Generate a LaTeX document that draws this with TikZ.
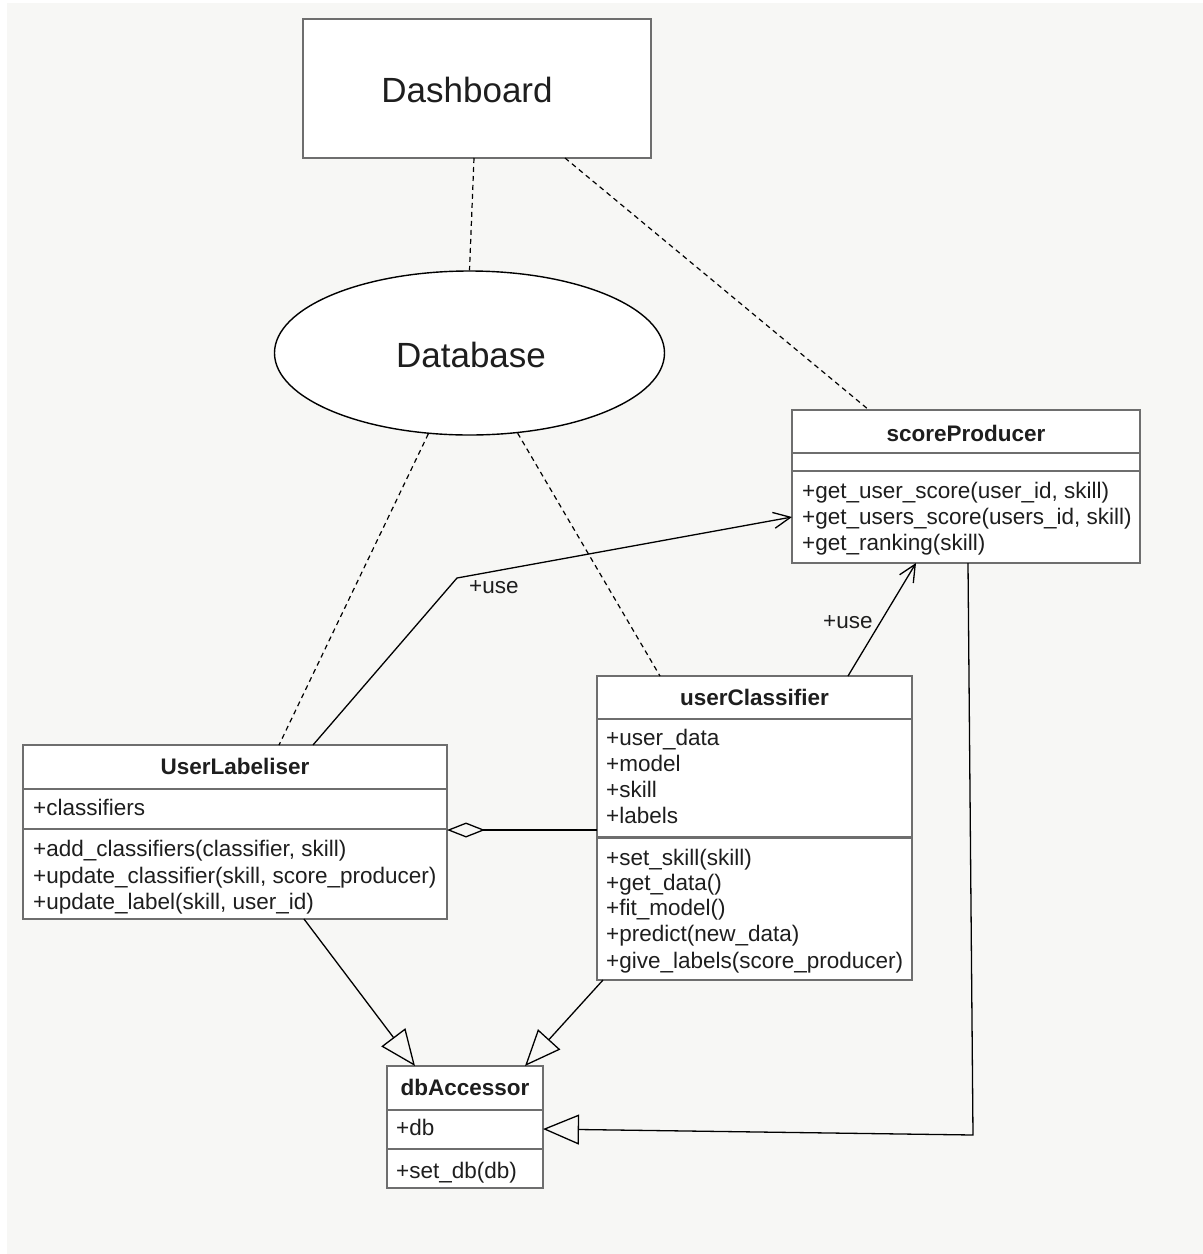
\documentclass[tikz,border=0pt]{standalone}
\usepackage{fontspec}
\setmainfont{Liberation Sans}
\usetikzlibrary{arrows.meta,shapes.geometric,calc}
\definecolor{bg}{HTML}{F7F7F5}
\definecolor{bord}{HTML}{6E6E6E}
\definecolor{txt}{HTML}{1E1E1E}
\begin{document}
\begin{tikzpicture}[x=1pt,y=-1pt,
  cls/.style={draw=bord, line width=2.4pt, fill=white, rectangle, inner sep=0pt, outer sep=0pt, anchor=north west},
  divl/.style={draw=bord, line width=2.2pt},
  ttl/.style={font=\fontsize{22.5}{27}\selectfont\bfseries, text=txt, inner sep=0pt, anchor=base},
  mem/.style={font=\fontsize{22.5}{27}\selectfont, text=txt, inner sep=0pt, anchor=base west},
  big/.style={font=\fontsize{35}{40}\selectfont, text=txt, inner sep=0pt, anchor=base},
  dep/.style={black, line width=1.2pt, dash pattern=on 5pt off 4pt},
  conn/.style={black, line width=1.3pt},
  gen/.style={conn, -{Triangle[open, length=36pt, width=30pt, line width=1.3pt]}},
  usearr/.style={conn, -{Straight Barb[length=17pt, width=16pt, line width=1.3pt]}},
  agg/.style={conn, -{Diamond[open, length=38pt, width=15pt, line width=1.3pt]}}
]
\fill[white] (0,0) rectangle (1203,1254);
\fill[bg] (7,3) rectangle (1203,1254);
\useasboundingbox (0,0) rectangle (1203,1254);

% Dashboard
\node[cls, minimum width=348pt, minimum height=139pt] (dash) at (303,19) {};
\node[big] (dasht) at (467,102.5) {Dashboard};

% Database
\node[ellipse, draw=black, line width=1.4pt, fill=white, minimum width=390pt, minimum height=164pt, inner sep=0pt] (dbase) at (469.5,353) {};
\node[big] (dbaset) at (471,367.5) {Database};

% scoreProducer
\node[cls, minimum width=348pt, minimum height=153pt] (sp) at (792,410) {};
\draw[divl] ([yshift=-43pt]sp.north west) -- ([yshift=-43pt]sp.north east);
\draw[divl] ([yshift=-61pt]sp.north west) -- ([yshift=-61pt]sp.north east);
\node[ttl] (spt) at (966,441) {scoreProducer};
\node[mem] (spm1) at (802,498) {+get\_user\_score(user\_id, skill)};
\node[mem] (spm2) at (802,524) {+get\_users\_score(users\_id, skill)};
\node[mem] (spm3) at (802,550) {+get\_ranking(skill)};

% UserLabeliser
\node[cls, minimum width=424pt, minimum height=174pt] (ul) at (23,745) {};
\draw[divl] ([yshift=-44pt]ul.north west) -- ([yshift=-44pt]ul.north east);
\draw[divl] ([yshift=-84pt]ul.north west) -- ([yshift=-84pt]ul.north east);
\node[ttl] (ult) at (235,774.5) {UserLabeliser};
\node[mem] (ula1) at (33,815.5) {+classifiers};
\node[mem] (ulm1) at (33,856.5) {+add\_classifiers(classifier, skill)};
\node[mem] (ulm2) at (33,883) {+update\_classifier(skill, score\_producer)};
\node[mem] (ulm3) at (33,909) {+update\_label(skill, user\_id)};

% userClassifier
\node[cls, minimum width=315pt, minimum height=304pt] (uc) at (597,676) {};
\draw[divl] ([yshift=-43pt]uc.north west) -- ([yshift=-43pt]uc.north east);
\draw[divl] ([yshift=-161.5pt]uc.north west) -- ([yshift=-161.5pt]uc.north east);
\node[ttl] (uct) at (754.5,705) {userClassifier};
\node[mem] (uca1) at (606,745) {+user\_data};
\node[mem] (uca2) at (606,771) {+model};
\node[mem] (uca3) at (606,797) {+skill};
\node[mem] (uca4) at (606,823) {+labels};
\node[mem] (ucm1) at (606,865) {+set\_skill(skill)};
\node[mem] (ucm2) at (606,890) {+get\_data()};
\node[mem] (ucm3) at (606,915.5) {+fit\_model()};
\node[mem] (ucm4) at (606,941.5) {+predict(new\_data)};
\node[mem] (ucm5) at (606,968) {+give\_labels(score\_producer)};

% dbAccessor
\node[cls, minimum width=156pt, minimum height=122pt] (dba) at (387,1066) {};
\draw[divl] ([yshift=-44pt]dba.north west) -- ([yshift=-44pt]dba.north east);
\draw[divl] ([yshift=-83pt]dba.north west) -- ([yshift=-83pt]dba.north east);
\node[ttl] (dbat) at (465,1095) {dbAccessor};
\node[mem] (dbaa1) at (396,1135) {+db};
\node[mem] (dbam1) at (396,1178) {+set\_db(db)};

% dependencies (dashed)
\draw[dep] ([xshift=171pt]dash.south west) -- (dbase.north);
\draw[dep] ([xshift=262pt]dash.south west) -- ([xshift=77pt]sp.north west);
\draw[dep] (dbase.-117) -- ([xshift=256pt]ul.north west);
\draw[dep] (dbase.-59) -- ([xshift=63pt]uc.north west);

% use associations
\coordinate (bend1) at (457,578);
\draw[usearr] ([xshift=290pt]ul.north west) -- (bend1) -- ([yshift=-30.5pt]sp.west);
\node[mem] (use1) at (469,593.5) {+use};
\draw[usearr] ([xshift=251pt]uc.north west) -- ([xshift=124pt]sp.south west);
\node[mem] (use2) at (823,628.5) {+use};

% aggregation
\draw[agg] ([yshift=-2pt]uc.west) -- ([yshift=2pt]ul.east);

% generalizations
\draw[gen] ([xshift=281pt]ul.south west) -- ([xshift=28pt]dba.north west);
\draw[gen] ([xshift=6pt]uc.south west) -- ([xshift=138pt]dba.north west);
\coordinate (bend2) at (973,1135);
\draw[gen] ([xshift=176pt]sp.south west) -- (bend2) -- ([yshift=-2pt]dba.east);
\end{tikzpicture}
\end{document}
